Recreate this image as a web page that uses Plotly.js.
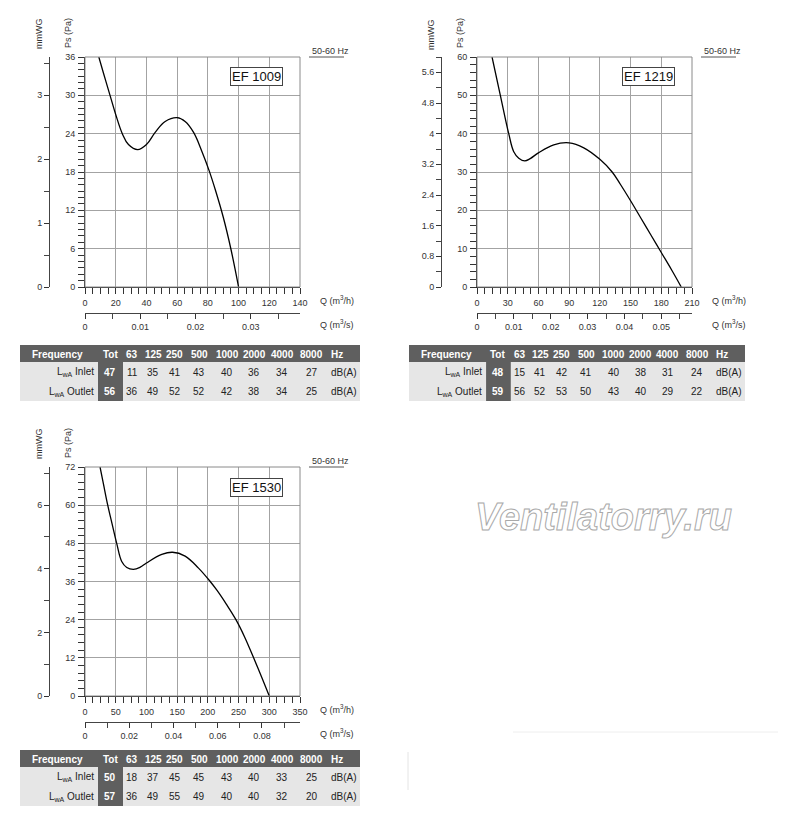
<!DOCTYPE html>
<html><head><meta charset="utf-8">
<script src="https://cdn.plot.ly/plotly-3.0.1.min.js"></script>
<style>
html,body{margin:0;padding:0;background:#fff;}
#chart{width:800px;height:836px;}
.annotation[data-index="0"] .annotation-text{fill:#ffffff !important;stroke:#a9a9a9;stroke-width:1px;}
</style></head><body><div id="chart"></div>
<script>
// ---------- data ----------
const ef1009Q  = [9, 12, 16.3, 20, 24.3, 28.3, 34.3, 40, 45.7, 52.2, 60, 65.2, 70.7, 76, 81, 85, 90, 95, 100];
const ef1009Ps = [36, 33.5, 30, 27.0, 24, 22.3, 21.5, 22.3, 24.2, 25.9, 26.5, 25.9, 24.2, 21.3, 18.1, 15.1, 10.95, 5.95, 0];
const ef1219Q  = [14.7, 22.8, 31, 35.9, 40.8, 46.6, 52, 60, 75, 90, 104.3, 120, 132, 140, 150, 160, 170, 180, 190, 199.5];
const ef1219Ps = [60, 50, 40, 35.3, 33.6, 32.9, 33.5, 35.0, 37.1, 37.6, 36.3, 33.3, 30, 26.8, 22.5, 18.0, 13.5, 9.0, 4.5, 0];
const ef1530Q  = [24.5, 30, 37, 44, 51.6, 59.8, 68, 78.8, 90, 100, 125, 142.4, 163, 184.8, 203.8, 215, 230, 245.7, 260, 274.5, 288, 300];
const ef1530Ps = [72, 66.7, 60, 54.2, 48, 42.3, 40.4, 39.8, 40.5, 41.8, 44.5, 45.2, 44.0, 40.2, 36, 33.2, 28.9, 24, 18.5, 12, 5.7, 0];

const bandLabels = ['63','125','250','500','1000','2000','4000','8000'];
const ef1009Inlet  = [11, 35, 41, 43, 40, 36, 34, 27];
const ef1009Outlet = [36, 49, 52, 52, 42, 38, 34, 25];
const ef1009Tot    = [47, 56];
const ef1219Inlet  = [15, 41, 42, 41, 40, 38, 31, 24];
const ef1219Outlet = [56, 52, 53, 50, 43, 40, 29, 22];
const ef1219Tot    = [48, 59];
const ef1530Inlet  = [18, 37, 45, 45, 43, 40, 33, 25];
const ef1530Outlet = [36, 49, 55, 49, 40, 40, 32, 20];
const ef1530Tot    = [50, 57];

const modelNames = ['EF 1009', 'EF 1219', 'EF 1530'];
const freqLabel = '50-60 Hz';
const PA_PER_MMWG = 10;
const M3H_PER_M3S = 3600;

// ---------- layout helpers ----------
const W = 800, H = 836;
const fx = x => x / W, fy = y => 1 - y / H;
const FONT = 'Liberation Sans, Arial, Helvetica, sans-serif';
const TXT = '#333';

const charts = [
  {name: modelNames[0], q: ef1009Q, ps: ef1009Ps, qMax: 140, qDt: 20, qMinor: 5, psMax: 36, psDt: 6, psMinor: 1,
   mmDt: 1, mmMinor: 0.5, sDt: 0.01, sMinor: 0.005, x0: 85, x1: 300, y0: 57, y1: 287},
  {name: modelNames[1], q: ef1219Q, ps: ef1219Ps, qMax: 210, qDt: 30, qMinor: 7.5, psMax: 60, psDt: 10, psMinor: 2,
   mmDt: 0.8, mmMinor: 0.4, sDt: 0.01, sMinor: 0.005, x0: 477, x1: 692, y0: 57, y1: 287},
  {name: modelNames[2], q: ef1530Q, ps: ef1530Ps, qMax: 350, qDt: 50, qMinor: 12.5, psMax: 72, psDt: 12, psMinor: 2.4,
   mmDt: 2, mmMinor: 1, sDt: 0.02, sMinor: 0.01, x0: 85, x1: 300, y0: 467, y1: 696}
];

const traces = [];
const layout = {
  width: W, height: H, margin: {l: 0, r: 0, t: 0, b: 0},
  paper_bgcolor: '#fff', plot_bgcolor: 'rgba(0,0,0,0)', showlegend: false,
  font: {family: FONT, size: 9, color: TXT},
  shapes: [], annotations: []
};
const ann = layout.annotations, shp = layout.shapes;

// watermark first (index 0, styled by CSS as outlined text)
ann.push({xref: 'paper', yref: 'paper', x: fx(603), y: fy(517), xanchor: 'center', yanchor: 'middle',
  text: 'Ventilatorry.ru', showarrow: false,
  font: {family: FONT, size: 38, color: '#d8d8d8', style: 'italic', weight: 'bold'}});

function tickfont() { return {family: FONT, size: 9, color: TXT}; }
function addText(x, y, text, opts) {
  ann.push(Object.assign({xref: 'paper', yref: 'paper', x: fx(x), y: fy(y), text: text, showarrow: false,
    xanchor: 'center', yanchor: 'middle', font: {family: FONT, size: 9, color: TXT}}, opts || {}));
}
function rect(x0, y0, x1, y1, fill, line) {
  shp.push({type: 'rect', xref: 'paper', yref: 'paper', x0: fx(x0), x1: fx(x1), y0: fy(y1), y1: fy(y0),
    fillcolor: fill, line: line || {width: 0}, layer: 'below'});
}
function hline(x0, x1, y, color, width) {
  shp.push({type: 'line', xref: 'paper', yref: 'paper', x0: fx(x0), x1: fx(x1), y0: fy(y), y1: fy(y),
    line: {color: color, width: width || 1}});
}

charts.forEach((c, i) => {
  const n = i * 2 + 1, m = i * 2 + 2;
  const xk = 'xaxis' + (n === 1 ? '' : n), yk = 'yaxis' + (n === 1 ? '' : n);
  const xid = 'x' + (n === 1 ? '' : n), yid = 'y' + (n === 1 ? '' : n);
  const common = {ticks: 'outside', ticklen: 6, tickwidth: 1, tickcolor: '#333', showline: true, linecolor: '#222',
    linewidth: 1, zeroline: false, fixedrange: true, tickfont: tickfont(), tick0: 0};
  layout[xk] = Object.assign({}, common, {domain: [fx(c.x0), fx(c.x1)], anchor: yid, range: [0, c.qMax], dtick: c.qDt,
    showgrid: true, gridcolor: '#a3a3a3', gridwidth: 1, ticklabelstandoff: 1,
    minor: {dtick: c.qMinor, tick0: 0, ticks: 'outside', ticklen: 6, tickcolor: '#333', showgrid: false}});
  layout[yk] = Object.assign({}, common, {domain: [fy(c.y1), fy(c.y0)], anchor: xid, range: [0, c.psMax], dtick: c.psDt,
    showgrid: true, gridcolor: '#a3a3a3', gridwidth: 1, ticklabelstandoff: 1,
    minor: {dtick: c.psMinor, tick0: 0, ticks: 'outside', ticklen: 6, tickcolor: '#333', showgrid: false}});
  // mmWG secondary axis
  layout['yaxis' + m] = Object.assign({}, common, {overlaying: yid, anchor: 'free', position: fx(c.x0 - 36), side: 'left',
    range: [0, c.psMax / PA_PER_MMWG], dtick: c.mmDt, ticklen: 5, showgrid: false, linecolor: '#444',
    minor: {dtick: c.mmMinor, tick0: 0, ticks: 'outside', ticklen: 5, tickcolor: '#444', showgrid: false}});
  // m3/s secondary axis
  layout['xaxis' + m] = Object.assign({}, common, {overlaying: xid, anchor: 'free', position: fy(c.y1 + 26), side: 'bottom',
    range: [0, c.qMax / M3H_PER_M3S], dtick: c.sDt, ticklen: 5, showgrid: false, linecolor: '#444',
    minor: {dtick: c.sMinor, tick0: 0, ticks: 'outside', ticklen: 5, tickcolor: '#444', showgrid: false}});

  traces.push({type: 'scatter', mode: 'lines', x: c.q, y: c.ps, xaxis: xid, yaxis: yid,
    line: {color: '#000', width: 1.3, shape: 'spline', smoothing: 1.1}, hoverinfo: 'skip'});
  // same curve expressed in the secondary units (invisible; makes the unit axes render)
  traces.push({type: 'scatter', mode: 'lines', x: c.q, y: c.ps.map(p => p / PA_PER_MMWG), xaxis: xid, yaxis: 'y' + m,
    line: {color: 'rgba(0,0,0,0)', width: 0}, hoverinfo: 'skip'});
  traces.push({type: 'scatter', mode: 'lines', x: c.q.map(q => q / M3H_PER_M3S), y: c.ps, xaxis: 'x' + m, yaxis: yid,
    line: {color: 'rgba(0,0,0,0)', width: 0}, hoverinfo: 'skip'});

  // plot border (top/right)
  shp.push({type: 'rect', xref: 'paper', yref: 'paper', x0: fx(c.x0), x1: fx(c.x1), y0: fy(c.y1), y1: fy(c.y0),
    line: {color: '#8a8a8a', width: 1}, fillcolor: 'rgba(0,0,0,0)', layer: 'above'});

  // titles
  addText(c.x0 - 46, c.y0 - 23, 'mmWG', {textangle: -90});
  addText(c.x0 - 17, c.y0 - 24, 'Ps (Pa)', {textangle: -90});
  addText(c.x1 + 10, c.y0 - 6, freqLabel, {xanchor: 'left'});
  hline(c.x1 + 9, c.x1 + 44, c.y0, '#555', 1);
  addText(c.x1 + 18, c.y1 + 13, 'Q (m<sup>3</sup>/h)', {xanchor: 'left'});
  addText(c.x1 + 18, c.y1 + 37, 'Q (m<sup>3</sup>/s)', {xanchor: 'left'});
  addText(c.x1 - 44, c.y0 + 20, c.name, {font: {family: FONT, size: 13, color: '#111'},
    bordercolor: '#444', borderwidth: 1, borderpad: 1, bgcolor: '#fff'});
});

// ---------- tables ----------
const colRel = [112.3, 133, 154.7, 179.3, 207, 234.3, 262, 291.7];
function addTable(x0, w, y0, tot, inlet, outlet) {
  const s = w / 340, X = r => x0 + r * s;
  const hh = 17, rh = 19.5;
  const dark = '#5f5f5f', light = '#e6e6e6';
  rect(x0, y0, x0 + w, y0 + hh, dark);
  rect(x0, y0 + hh, x0 + w, y0 + hh + 2 * rh, light);
  rect(X(78), y0 + hh, X(103), y0 + hh + 2 * rh, dark);
  const wb = {family: FONT, size: 10, color: '#fff', weight: 'bold'};
  const rf = {family: FONT, size: 10, color: '#222'};
  const yH = y0 + hh / 2 + 0.5;
  addText(X(38), yH, 'Frequency', {font: wb});
  addText(X(90), yH, 'Tot', {font: wb});
  bandLabels.forEach((b, k) => addText(X(colRel[k]), yH, b, {font: wb}));
  addText(X(309), yH, 'Hz', {font: wb, xanchor: 'left'});
  [['Inlet', inlet, tot[0]], ['Outlet', outlet, tot[1]]].forEach((r, j) => {
    const yy = y0 + hh + rh * j + rh / 2 + 0.5;
    addText(X(76), yy, 'L<sub>wA</sub> ' + r[0], {font: rf, xanchor: 'right'});
    addText(X(90), yy, String(r[2]), {font: wb});
    r[1].forEach((v, k) => addText(X(colRel[k]), yy, String(v), {font: rf}));
    addText(X(309), yy, 'dB(A)', {font: rf, xanchor: 'left'});
  });
}
addTable(20, 340, 345, ef1009Tot, ef1009Inlet, ef1009Outlet);
addTable(409, 336, 345, ef1219Tot, ef1219Inlet, ef1219Outlet);
addTable(20, 340, 750, ef1530Tot, ef1530Inlet, ef1530Outlet);

// faint scan remnants
hline(513, 778, 732, '#eeeeee', 1);
shp.push({type: 'line', xref: 'paper', yref: 'paper', x0: fx(408), x1: fx(408), y0: fy(790), y1: fy(752),
  line: {color: '#e4e4e4', width: 1}});

Plotly.newPlot('chart', traces, layout, {staticPlot: true, displayModeBar: false});
</script></body></html>
